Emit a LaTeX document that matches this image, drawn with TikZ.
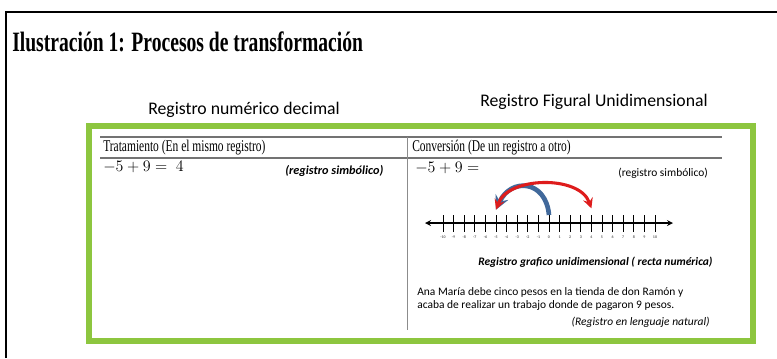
\documentclass[tikz,border=0pt]{standalone}
\usepackage{fontspec}
\setmainfont{Liberation Serif}
\setsansfont{Carlito}
\newfontfamily\condserif[FakeStretch=0.7]{Liberation Serif}
\usetikzlibrary{arrows,shadows}
\definecolor{boxgreen}{RGB}{141,198,63}
\definecolor{arcblue}{RGB}{65,105,155}
\definecolor{arcred}{RGB}{222,28,28}

\begin{document}
\begin{tikzpicture}[x=0.75pt, y=-0.75pt, >=stealth,
    txt/.style={inner sep=0pt, anchor=west},
    cal/.style={txt, font=\sffamily\fontsize{#1}{#1}\selectfont},
    calit/.style={txt, font=\sffamily\itshape\fontsize{#1}{#1}\selectfont},
    head/.style={txt, font=\condserif\fontsize{12.3}{12.3}\selectfont},
    rule/.style={draw=black!55, line width=0.9pt}]
    \useasboundingbox (0,0) rectangle (777,358);
    \draw[line width=1.5pt] (6,358) -- (6,12) -- (777,12);
    \node[txt, font=\condserif\bfseries\fontsize{21}{21}\selectfont] (title) at (12,42) {Ilustración 1: Procesos de transformación};
    \node[cal=13.3] (regnum) at (148,110) {Registro numérico decimal};
    \node[cal=13.3] (regfig) at (480,102) {Registro Figural Unidimensional};
    \draw[boxgreen, line width=4.5pt, fill=white,
          drop shadow={opacity=0.25, shadow xshift=1.5pt, shadow yshift=-1.5pt}] (89,126) rectangle (753,341);
    \draw[rule] (100,137) -- (722,137) (100,158) -- (722,158);
    \draw[draw=black!45, line width=0.6pt] (407,137) -- (407,330);
    \node[head] (trat) at (103,148) {Tratamiento (En el mismo registro)};
    \node[head] (conv) at (412,148) {Conversión (De un registro a otro)};
    \node[txt, font=\fontsize{12.5}{12.5}\selectfont] (eqA) at (103,167) {$-5+9=\ 4$};
    \node[calit=9.2] (symA) at (285,171) {\bfseries (registro simbólico)};
    \node[txt, font=\fontsize{12.5}{12.5}\selectfont] (eqB) at (415,168) {$-5+9=$};
    \node[cal=8.6] (symB) at (618,173) {(registro simbólico)};
    \foreach \i [evaluate=\i as \v using int(\i-10)] in {0,...,20}{
        \coordinate (p\i) at (443+10.6*\i,223);
        \draw[line width=0.6pt] (443+10.6*\i,215) -- (443+10.6*\i,232);
        \node[inner sep=0pt, text=black!60, font=\sffamily\bfseries\fontsize{3}{3}\selectfont] at (443+10.6*\i,237) {\v};
    }
    \coordinate (lend) at (425,223);
    \coordinate (rend) at (673,223);
    \draw[<->, line width=1pt] (lend) -- (rend);
    \draw[arcblue, line width=3.5pt, ->] ([yshift=6pt]p10) to[out=95, in=65, looseness=1.7] ([yshift=10pt]p5);
    \draw[arcred, line width=2.3pt, <->] ([yshift=10pt]p5) to[out=70, in=110, looseness=0.95] ([yshift=11pt]p14);
    \node[calit=8.6] (grafico) at (478,262) {\bfseries Registro grafico unidimensional ( recta numérica)};
    \node[cal=8.6, align=left] (story) at (417,299) {Ana María debe cinco pesos en la tienda de don Ramón y\\[1.5pt]acaba de realizar un trabajo donde de pagaron 9 pesos.};
    \node[calit=8.6, anchor=east] (natural) at (710,322) {(Registro en lenguaje natural)};
\end{tikzpicture}
\end{document}
